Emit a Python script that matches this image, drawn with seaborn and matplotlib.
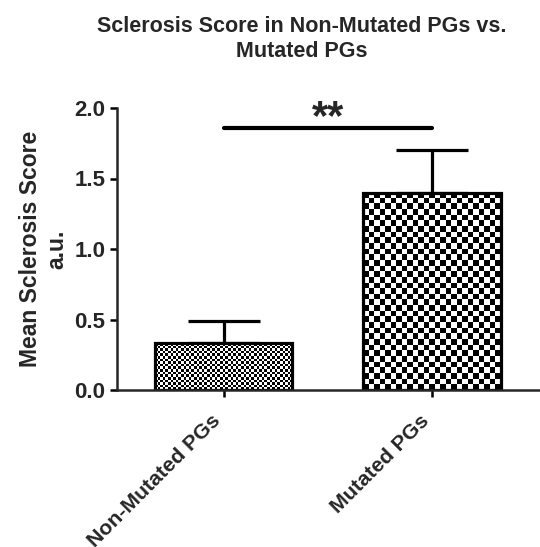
import numpy as np
import pandas as pd
import matplotlib
matplotlib.use('Agg')
import matplotlib.pyplot as plt
import matplotlib.transforms as mtransforms
import seaborn as sns

# values
groups = ['Non-Mutated PGs', 'Mutated PGs']
mean_scores = [0.33, 1.40]
sem_upper = [0.16, 0.30]
checker_px = [2.6, 5.6]   # checker cell size in pixels per bar
sig_height = 1.86
sig_label = '**'
y_ticks = [0.0, 0.5, 1.0, 1.5, 2.0]

sns.set_style('ticks')
plt.rcParams['font.family'] = ['Liberation Sans', 'DejaVu Sans']
plt.rcParams['font.weight'] = 'bold'

df = pd.DataFrame({'group': groups, 'score': mean_scores})

fig, ax = plt.subplots(figsize=(5.4, 5.47), dpi=100)
fig.subplots_adjust(left=117 / 540, right=0.998, bottom=157 / 547, top=439 / 547)

sns.barplot(data=df, x='group', y='score', ax=ax, width=0.66,
            color='white', edgecolor='black', linewidth=2.3, zorder=2)

ax.set_xlim(-0.51, 1.51)
ax.set_ylim(0, 2.0)
fig.canvas.draw()

# checkerboard fill, clipped to each bar
for patch, cell in zip(ax.patches, checker_px):
    x0, y0 = patch.get_x(), patch.get_y()
    w, h = patch.get_width(), patch.get_height()
    bb = patch.get_window_extent()
    ncols = max(int(round(bb.width / cell)), 1)
    nrows = max(int(round(bb.height / cell)), 1)
    board = (np.indices((nrows, ncols)).sum(axis=0) % 2).astype(float)
    im = ax.imshow(board, extent=(x0, x0 + w, y0, y0 + h), cmap='gray',
                   interpolation='nearest', aspect='auto', zorder=1.5, vmin=0, vmax=1)
    im.set_clip_path(patch)
    patch.set_facecolor('none')

ax.set_xlim(-0.51, 1.51)
ax.set_ylim(0, 2.0)

xpos = np.arange(len(groups))
ax.errorbar(xpos, mean_scores, yerr=[np.zeros(len(groups)), sem_upper],
            fmt='none', ecolor='black', elinewidth=2.3, capsize=26, capthick=2.3,
            zorder=1)

# significance bar
ax.plot([xpos[0], xpos[-1]], [sig_height, sig_height], color='black', lw=3,
        solid_capstyle='round', clip_on=False, zorder=3)
ax.text(xpos.mean(), sig_height - 0.07, sig_label, ha='center', va='bottom',
        fontsize=30, fontweight='bold')

for side in ['top', 'right']:
    ax.spines[side].set_visible(False)
for side in ['left', 'bottom']:
    ax.spines[side].set_linewidth(1.8)
ax.tick_params(axis='both', width=1.8, length=5, color='black')

ax.set_yticks(y_ticks)
ax.set_yticklabels([f'{t:.1f}' for t in y_ticks], fontsize=16, fontweight='bold')
ax.set_xticks(xpos)
ax.set_xticklabels(groups, rotation=45, ha='right', va='center', rotation_mode='anchor',
                   fontsize=15.3, fontweight='bold')
# nudge the rotated labels down-left like the original
shift = mtransforms.ScaledTranslation(-6 / 100, -16 / 100, fig.dpi_scale_trans)
for lab in ax.get_xticklabels():
    lab.set_transform(lab.get_transform() + shift)

ax.set_xlabel('')
ax.set_ylabel('Mean Sclerosis Score\na.u.', fontsize=16.5, fontweight='bold', labelpad=4)
fig.suptitle('Sclerosis Score in Non-Mutated PGs vs.\nMutated PGs', fontsize=15.5,
             fontweight='bold', x=302 / 540, y=1 - 39 / 547, va='center',
             linespacing=1.3)

fig.savefig('out.png', dpi=100)
